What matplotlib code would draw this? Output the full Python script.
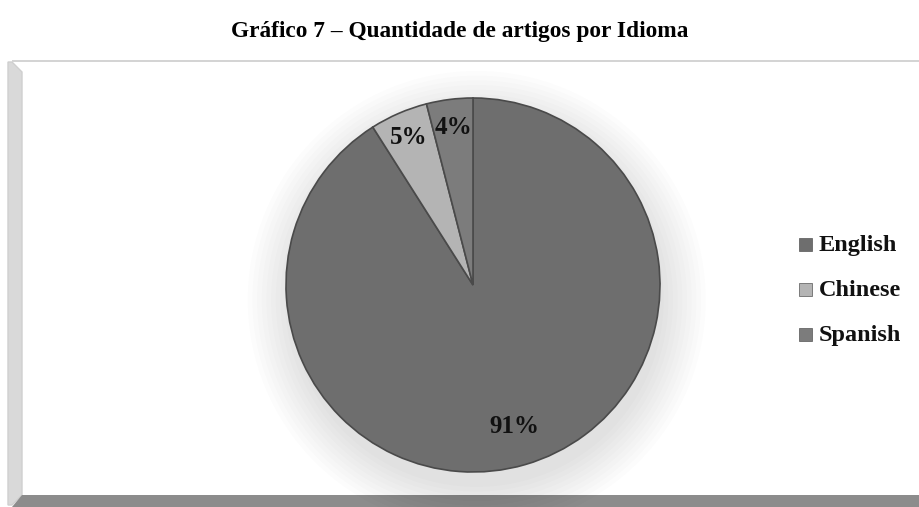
import numpy as np
import matplotlib
matplotlib.use("Agg")
import matplotlib.pyplot as plt
from matplotlib.patches import Rectangle, Polygon, Circle

idiomas = ["English", "Chinese", "Spanish"]
valores = [91, 5, 4]
cores = ["#6e6e6e", "#b4b4b4", "#7c7c7c"]
titulo = "Gráfico 7 – Quantidade de artigos por Idioma"

W, H = 919, 507
fig = plt.figure(figsize=(W / 100, H / 100), dpi=100)
plt.rcParams['font.family'] = ['Liberation Serif', 'DejaVu Serif']

def fx(x):
    return x / W

def fy(y):
    return 1 - y / H

# moldura do grafico (parede esquerda, fundo e chao)
fig.patches.append(Polygon([(fx(8), fy(62)), (fx(12), fy(62)), (fx(22), fy(72)),
                            (fx(22), fy(495)), (fx(12), fy(505)), (fx(8), fy(505))],
                           closed=True, transform=fig.transFigure,
                           facecolor="#d9d9d9", edgecolor="#cfcfcf", zorder=1))
fig.patches.append(Rectangle((fx(12), fy(62)), fx(919 - 12), fy(60) - fy(62),
                             transform=fig.transFigure, facecolor="#d4d4d4",
                             edgecolor="none", zorder=1))
fig.patches.append(Polygon([(fx(12), fy(507)), (fx(22), fy(495)), (fx(919), fy(495)),
                            (fx(919), fy(507))], closed=True,
                           transform=fig.transFigure, facecolor="#8c8c8c",
                           edgecolor="none", zorder=1))

fig.text(0.5, fy(32), titulo, ha="center", va="center", fontsize=16.8,
         fontweight="bold")

cx, cy, r = 473, 285, 187
ax = fig.add_axes([fx(cx - r), (H - cy - r) / H, 2 * r / W, 2 * r / H])
ax.set_zorder(5)
ax.patch.set_visible(False)

# sombra suave
for k in range(10):
    ax.add_patch(Circle((0.02, -0.08), 1.0 + 0.025 * k, facecolor="black",
                        alpha=0.01, edgecolor="none", zorder=0, clip_on=False))

wedges, _ = ax.pie(valores, colors=cores, startangle=90, counterclock=False,
                   radius=1.0, wedgeprops=dict(edgecolor="#4a4a4a", linewidth=1.2))
ax.set_xlim(-1, 1)
ax.set_ylim(-1, 1)
ax.axis("off")

dist = [0.79, 0.86, 0.85]
ang = 90.0
for w, v, d in zip(wedges, valores, dist):
    meio = np.deg2rad(ang - v * 360 / 100 / 2)
    ang -= v * 360 / 100
    ax.text(d * np.cos(meio), d * np.sin(meio), "%d%%" % v, ha="center",
            va="center", fontsize=18, fontweight="bold", color="#111111")

# legenda
leg_y = [245, 290, 335]
for nome, cor, y in zip(idiomas, cores, leg_y):
    fig.patches.append(Rectangle((fx(799), fy(y + 6)), fx(13), fy(y - 7) - fy(y + 6),
                                 transform=fig.transFigure, facecolor=cor,
                                 edgecolor="#555555", linewidth=0.5))
    fig.text(fx(819), fy(y), nome, ha="left", va="center", fontsize=17.5,
             fontweight="bold", color="#111111")

fig.savefig("out.png", dpi=100)
